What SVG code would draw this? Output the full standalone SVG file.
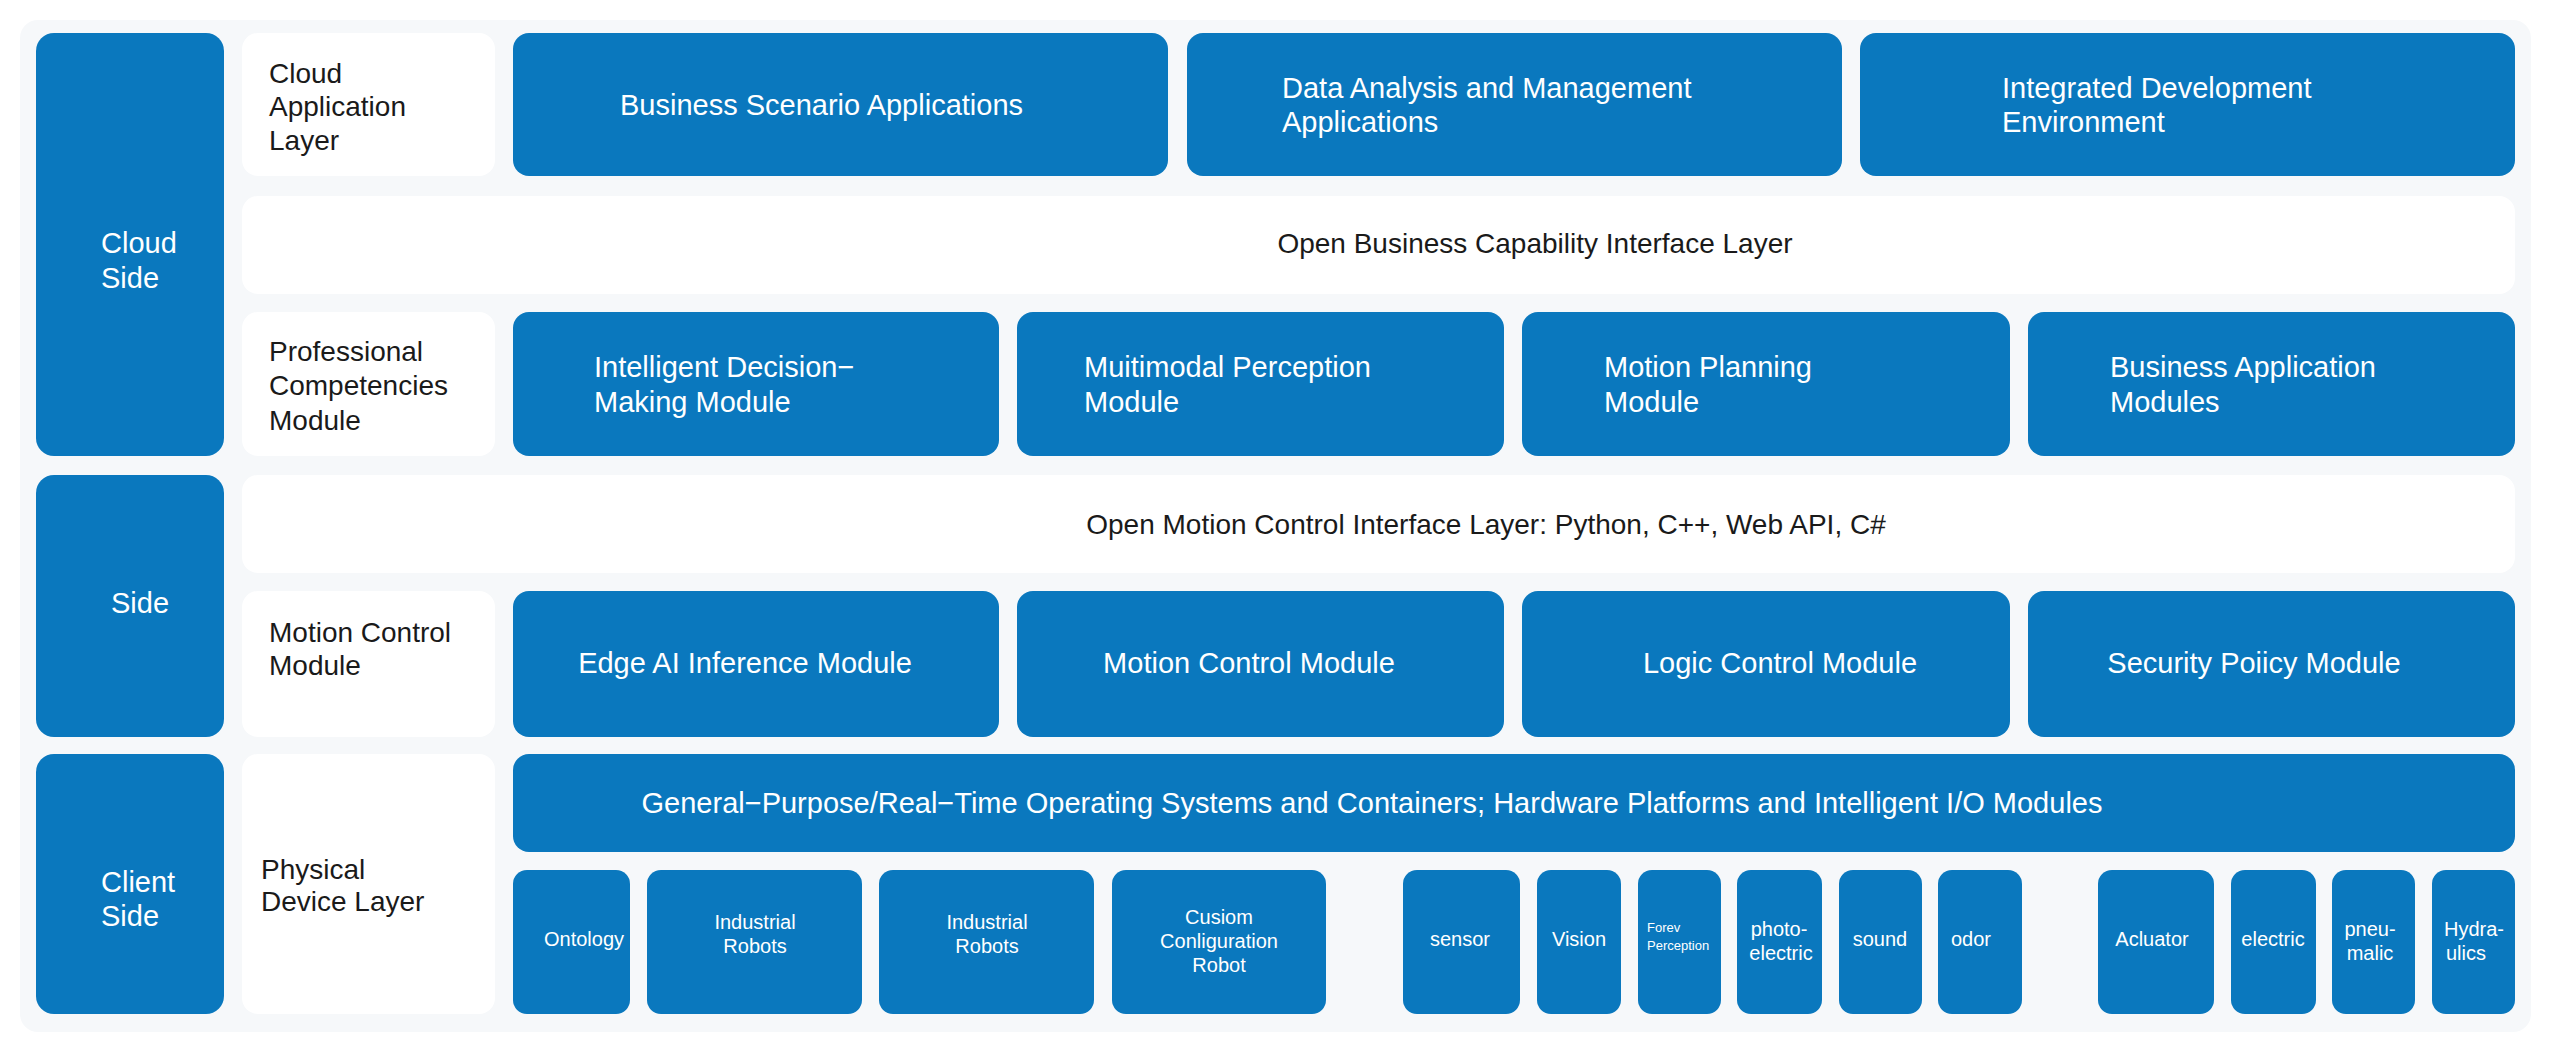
<svg xmlns="http://www.w3.org/2000/svg" width="2560" height="1055" viewBox="0 0 2560 1055">
<style>
.b{fill:#0a78be}
.w{fill:#ffffff}
text{font-family:"Liberation Sans",Arial,sans-serif}
.tw{fill:#ffffff;font-size:29px}
.tk{fill:#1a1a1a;font-size:28px}
.ts{fill:#ffffff;font-size:20px;text-anchor:middle}
.c{text-anchor:middle}
</style>
<rect x="0" y="0" width="2560" height="1055" fill="#ffffff"/>
<rect x="20" y="20" width="2511" height="1012" rx="18" fill="#f6f8fa"/>
<g id="cloud-side"><rect class="b" x="36" y="33" width="188" height="423" rx="18"/><text class="tw" x="101" y="253">Cloud</text><text class="tw" x="101" y="288">Side</text></g>
<g id="side"><rect class="b" x="36" y="475" width="188" height="262" rx="18"/><text class="tw c" x="140" y="613">Side</text></g>
<g id="client-side"><rect class="b" x="36" y="754" width="188" height="260" rx="18"/><text class="tw" x="101" y="892">Client</text><text class="tw" x="101" y="926">Side</text></g>
<g id="cloud-app-label"><rect class="w" x="242" y="33" width="253" height="143" rx="16"/><text class="tk" x="269" y="83">Cloud</text><text class="tk" x="269" y="116">Application</text><text class="tk" x="269" y="150">Layer</text></g>
<g id="bsa"><rect class="b" x="513" y="33" width="655" height="143" rx="16"/><text class="tw" x="620" y="115">Business Scenario Applications</text></g>
<g id="dama"><rect class="b" x="1187" y="33" width="655" height="143" rx="16"/><text class="tw" x="1282" y="98">Data Analysis and Management</text><text class="tw" x="1282" y="132">Applications</text></g>
<g id="ide"><rect class="b" x="1860" y="33" width="655" height="143" rx="16"/><text class="tw" x="2002" y="98">Integrated Development</text><text class="tw" x="2002" y="132">Environment</text></g>
<g id="obcil"><rect class="w" x="242" y="196" width="2273" height="98" rx="16"/><text class="tk c" x="1535" y="253">Open Business Capability Interface Layer</text></g>
<g id="pcm-label"><rect class="w" x="242" y="312" width="253" height="144" rx="16"/><text class="tk" x="269" y="361">Professional</text><text class="tk" x="269" y="395">Competencies</text><text class="tk" x="269" y="430">Module</text></g>
<g id="idm"><rect class="b" x="513" y="312" width="486" height="144" rx="16"/><text class="tw" x="594" y="377">Intelligent Decision−</text><text class="tw" x="594" y="412">Making Module</text></g>
<g id="mpm"><rect class="b" x="1017" y="312" width="487" height="144" rx="16"/><text class="tw" x="1084" y="377">Muitimodal Perception</text><text class="tw" x="1084" y="412">Module</text></g>
<g id="mplan"><rect class="b" x="1522" y="312" width="488" height="144" rx="16"/><text class="tw" x="1604" y="377">Motion Planning</text><text class="tw" x="1604" y="412">Module</text></g>
<g id="bam"><rect class="b" x="2028" y="312" width="487" height="144" rx="16"/><text class="tw" x="2110" y="377">Business Application</text><text class="tw" x="2110" y="412">Modules</text></g>
<g id="omcil"><rect class="w" x="242" y="475" width="2273" height="98" rx="16"/><text class="tk c" x="1486" y="534">Open Motion Control Interface Layer: Python, C++, Web API, C#</text></g>
<g id="mcm-label"><rect class="w" x="242" y="591" width="253" height="146" rx="16"/><text class="tk" x="269" y="642">Motion Control</text><text class="tk" x="269" y="675">Module</text></g>
<g id="eai"><rect class="b" x="513" y="591" width="486" height="146" rx="16"/><text class="tw c" x="745" y="673">Edge AI Inference Module</text></g>
<g id="mcm"><rect class="b" x="1017" y="591" width="487" height="146" rx="16"/><text class="tw c" x="1249" y="673">Motion Control Module</text></g>
<g id="lcm"><rect class="b" x="1522" y="591" width="488" height="146" rx="16"/><text class="tw c" x="1780" y="673">Logic Control Module</text></g>
<g id="spm"><rect class="b" x="2028" y="591" width="487" height="146" rx="16"/><text class="tw c" x="2254" y="673">Security Poiicy Module</text></g>
<g id="pdl-label"><rect class="w" x="242" y="754" width="253" height="260" rx="16"/><text class="tk" x="261" y="879">Physical</text><text class="tk" x="261" y="911">Device Layer</text></g>
<g id="os"><rect class="b" x="513" y="754" width="2002" height="98" rx="16"/><text class="tw c" x="1372" y="813">General−Purpose/Real−Time Operating Systems and Containers; Hardware Platforms and Intelligent I/O Modules</text></g>
<g id="ontology"><rect class="b" x="513" y="870" width="117" height="144" rx="14"/><text class="ts" x="584" y="946">Ontology</text></g>
<g id="ir1"><rect class="b" x="647" y="870" width="215" height="144" rx="14"/><text class="ts" x="755" y="929">Industrial</text><text class="ts" x="755" y="953">Robots</text></g>
<g id="ir2"><rect class="b" x="879" y="870" width="215" height="144" rx="14"/><text class="ts" x="987" y="929">Industrial</text><text class="ts" x="987" y="953">Robots</text></g>
<g id="ccr"><rect class="b" x="1112" y="870" width="214" height="144" rx="14"/><text class="ts" x="1219" y="924">Cusiom</text><text class="ts" x="1219" y="948">Conliguration</text><text class="ts" x="1219" y="972">Robot</text></g>
<g id="sensor"><rect class="b" x="1403" y="870" width="117" height="144" rx="14"/><text class="ts" x="1460" y="946">sensor</text></g>
<g id="vision"><rect class="b" x="1537" y="870" width="84" height="144" rx="14"/><text class="ts" x="1579" y="946">Vision</text></g>
<g id="force"><rect class="b" x="1638" y="870" width="83" height="144" rx="14"/><text x="1647" y="932" fill="#fff" font-size="13">Forev</text><text x="1647" y="950" fill="#fff" font-size="13">Perception</text></g>
<g id="photo"><rect class="b" x="1737" y="870" width="85" height="144" rx="14"/><text class="ts" x="1779" y="936">photo-</text><text class="ts" x="1781" y="960">electric</text></g>
<g id="sound"><rect class="b" x="1839" y="870" width="83" height="144" rx="14"/><text class="ts" x="1880" y="946">sound</text></g>
<g id="odor"><rect class="b" x="1938" y="870" width="84" height="144" rx="14"/><text class="ts" x="1971" y="946">odor</text></g>
<g id="actuator"><rect class="b" x="2098" y="870" width="116" height="144" rx="14"/><text class="ts" x="2152" y="946">Acluator</text></g>
<g id="electric"><rect class="b" x="2231" y="870" width="85" height="144" rx="14"/><text class="ts" x="2273" y="946">electric</text></g>
<g id="pneu"><rect class="b" x="2332" y="870" width="83" height="144" rx="14"/><text class="ts" x="2370" y="936">pneu-</text><text class="ts" x="2370" y="960">malic</text></g>
<g id="hydra"><rect class="b" x="2432" y="870" width="83" height="144" rx="14"/><text class="ts" x="2474" y="936">Hydra-</text><text class="ts" x="2466" y="960">ulics</text></g>
<g id="connectors"></g>
</svg>
